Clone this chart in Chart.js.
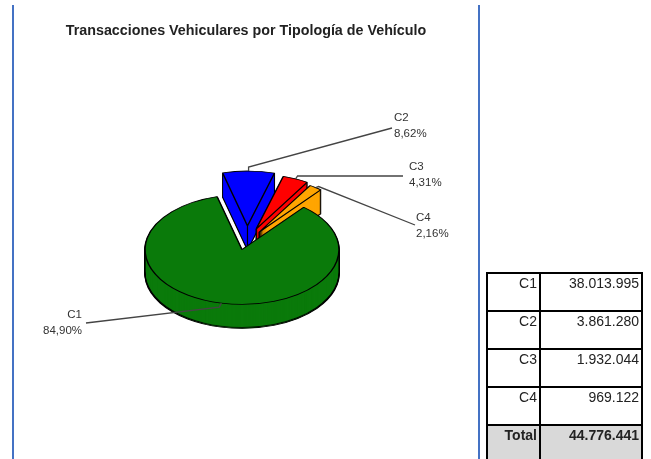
<!DOCTYPE html>
<html lang="es">
<head>
<meta charset="utf-8">
<title>Transacciones Vehiculares por Tipología de Vehículo</title>
<script src="https://cdn.jsdelivr.net/npm/chart.js@4"></script>
<style>
  html, body { margin: 0; padding: 0; background: #fff; width: 651px; height: 459px; overflow: hidden; }
  #wrap { position: absolute; left: 0; top: 0; width: 492px; height: 459px; }
  #wrap canvas { filter: blur(0.35px); }
  .rule { position: absolute; top: 5px; bottom: 0; width: 2px; background: #4472c4; z-index: 2; }
  table { position: absolute; left: 486px; top: 272px; width: 157px; border-collapse: collapse; table-layout: fixed;
          font: 14px "Liberation Sans", Arial, sans-serif; color: #222; z-index: 3; }
  td { border: 2px solid #000; height: 34px; padding: 2px 2px 0 0; text-align: right; vertical-align: top; box-sizing: content-box; line-height: 15px; }
  td:first-child { width: 49px; }
  tr.total td { background: #d9d9d9; font-weight: bold; }
</style>
</head>
<body>
<div class="rule" style="left:12px"></div>
<div class="rule" style="left:478px"></div>
<div id="wrap"><canvas id="chart" width="492" height="459"></canvas></div>
<table id="tbl"></table>
<script>
const chartTitle = 'Transacciones Vehiculares por Tipología de Vehículo';
const categories = ['C1', 'C2', 'C3', 'C4'];
const values = [38013995, 3861280, 1932044, 969122];
const totalLabel = 'Total';
const totalValue = 44776441;
const colors = ['#0a7a0a', '#0000ff', '#ff0000', '#ffa500'];

const fmtInt = n => String(n).replace(/\B(?=(\d{3})+(?!\d))/g, '.');
const fmtPct = v => (v / totalValue * 100).toFixed(2).replace('.', ',') + '%';

const tbl = document.getElementById('tbl');
categories.forEach((c, i) => {
  const tr = tbl.insertRow();
  tr.insertCell().textContent = c;
  tr.insertCell().textContent = fmtInt(values[i]);
});
const trT = tbl.insertRow();
trT.className = 'total';
trT.insertCell().textContent = totalLabel;
trT.insertCell().textContent = fmtInt(totalValue);

const TILT = 0.565, DEPTH = 24, RADIUS = 97;
const explode = [0, 42, 40, 38];
const sliceShiftX = [-4, 1, -6, -9];
// label placement per category: text anchor, alignment, and polyline from the slice edge
const labelLayout = [
  { x: 82,  y: 315, align: 'right', elbow: [-2, 4],  end: [86, 323] },
  { x: 394, y: 118, align: 'left',  elbow: [0, -4],  end: [392, 128] },
  { x: 409, y: 167, align: 'left',  elbow: [2, -3],  end: [403, 176] },
  { x: 416, y: 218, align: 'left',  elbow: [3, -1],  end: [415, 225] }
];

const pie3d = {
  id: 'pie3d',
  afterDatasetUpdate(chart, args) {
    args.meta.data.forEach((el, i) => {
      const mid = (el.startAngle + el.endAngle) / 2;
      el.x += Math.cos(mid) * explode[i] + sliceShiftX[i];
      el.tiltY = el.y + Math.sin(mid) * explode[i] * TILT;
    });
  },
  beforeDatasetDraw(chart, args) {
    const ctx = chart.ctx, arcs = args.meta.data;
    const layer = (el, d, fn) => {
      ctx.save();
      ctx.translate(0, el.tiltY + d);
      ctx.scale(1, TILT);
      ctx.translate(0, -el.y);
      fn();
      ctx.restore();
    };
    [1, 2, 3, 0].forEach(i => {
      const el = arcs[i];
      const o = el.options, r = el.outerRadius;
      // side wall: outline pass, then fill pass slightly inside it
      for (let d = DEPTH; d > 0; d--) layer(el, d, () => el.draw(ctx));
      el.options = Object.create(o, { borderWidth: { value: 0 } });
      el.outerRadius = r - 0.8;
      for (let d = DEPTH - 1; d > 0; d--) layer(el, d, () => el.draw(ctx));
      el.options = o;
      el.outerRadius = r;
      // corner where the two cut faces meet
      if (i > 0) {
        ctx.strokeStyle = o.borderColor;
        ctx.lineWidth = 1.2;
        ctx.beginPath();
        ctx.moveTo(el.x, el.tiltY);
        ctx.lineTo(el.x, el.tiltY + DEPTH);
        ctx.stroke();
      }
      // top surface
      layer(el, 0, () => el.draw(ctx));
    });
    return false;
  },
  afterDatasetsDraw(chart) {
    const ctx = chart.ctx, arcs = chart.getDatasetMeta(0).data;
    ctx.save();
    ctx.font = '11.5px "Liberation Sans", Arial, sans-serif';
    ctx.textBaseline = 'middle';
    arcs.forEach((el, i) => {
      const L = labelLayout[i];
      const mid = (el.startAngle + el.endAngle) / 2;
      const px = el.x + Math.cos(mid) * RADIUS;
      const py = el.tiltY + Math.sin(mid) * RADIUS * TILT;
      ctx.strokeStyle = '#444';
      ctx.lineWidth = 1.3;
      ctx.beginPath();
      ctx.moveTo(px, py);
      ctx.lineTo(px + L.elbow[0], py + L.elbow[1]);
      ctx.lineTo(L.end[0], L.end[1]);
      ctx.stroke();
      ctx.fillStyle = '#333';
      ctx.textAlign = L.align;
      ctx.fillText(categories[i], L.x, L.y);
      ctx.fillText(fmtPct(values[i]), L.x, L.y + 16);
    });
    ctx.restore();
  }
};

new Chart(document.getElementById('chart'), {
  type: 'pie',
  data: {
    labels: categories,
    datasets: [{
      data: values,
      backgroundColor: colors,
      borderColor: '#000000',
      borderWidth: 1.5
    }]
  },
  plugins: [pie3d],
  options: {
    responsive: false,
    animation: false,
    events: [],
    rotation: 39.5,
    radius: RADIUS,
    layout: { padding: 0 },
    plugins: {
      legend: { display: false },
      tooltip: { enabled: false },
      title: {
        display: true,
        text: chartTitle,
        color: '#222',
        font: { family: '"Liberation Sans", Arial, sans-serif', size: 14.3, weight: 'bold' },
        padding: { top: 22, bottom: 1 }
      }
    }
  }
});
</script>
</body>
</html>
